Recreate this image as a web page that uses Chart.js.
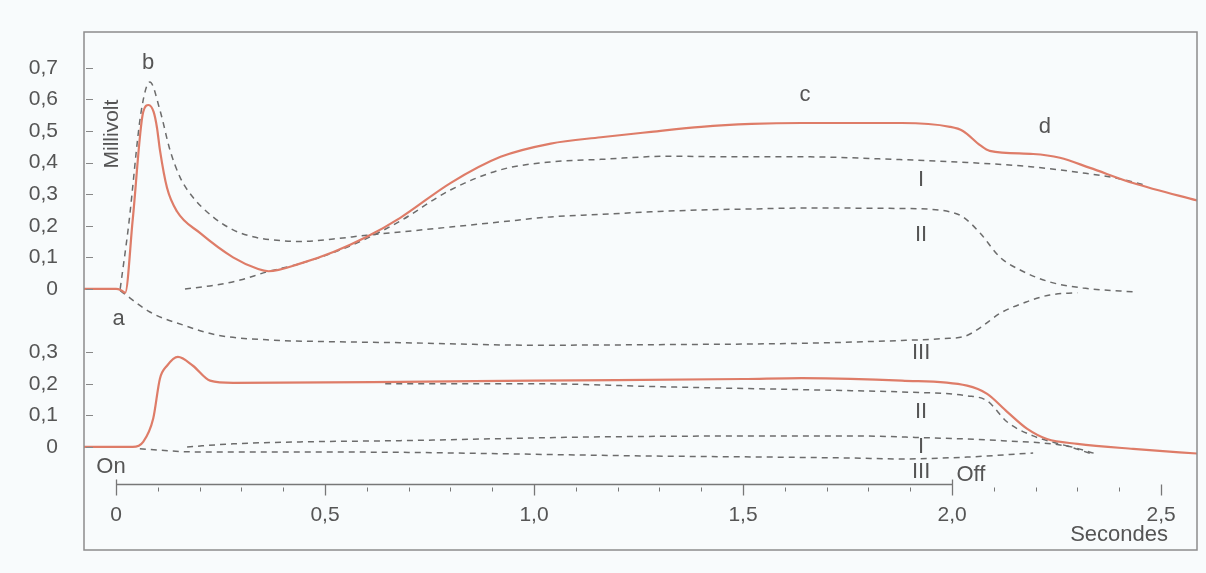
<!DOCTYPE html>
<html>
<head>
<meta charset="utf-8">
<script src="https://cdn.jsdelivr.net/npm/chart.js@4.4.1/dist/chart.umd.min.js"></script>
<style>
  html, body { margin: 0; padding: 0; background: #f8fbfc; }
  #erg { display: block; }
</style>
</head>
<body>
<canvas id="erg" width="1206" height="573"></canvas>
<script>
// ERG and its components (Granit): time in seconds, potential in millivolt
const upperErgTime = [-0.08, 0.0, 0.012, 0.022, 0.04, 0.065, 0.078, 0.09, 0.098, 0.105, 0.122, 0.146, 0.2, 0.28, 0.34, 0.365, 0.44, 0.52, 0.6, 0.68, 0.8, 0.92, 1.04, 1.16, 1.28, 1.4, 1.52, 1.64, 1.88, 1.995, 2.026, 2.067, 2.09, 2.194, 2.258, 2.33, 2.433, 2.6]
const upperErg = [0, 0, -0.004, -0.012, 0.22, 0.56, 0.582, 0.56, 0.51, 0.44, 0.32, 0.245, 0.178, 0.1, 0.063, 0.056, 0.08, 0.117, 0.165, 0.225, 0.335, 0.418, 0.46, 0.48, 0.497, 0.513, 0.522, 0.525, 0.525, 0.513, 0.5, 0.455, 0.437, 0.427, 0.415, 0.383, 0.335, 0.275]

const upperPITime = [0.165, 0.242, 0.297, 0.361, 0.44, 0.52, 0.6, 0.68, 0.8, 0.92, 1.04, 1.16, 1.32, 1.48, 1.64, 1.86, 2.036, 2.194, 2.313, 2.395, 2.457]
const upperPI = [0, 0.013, 0.028, 0.054, 0.08, 0.115, 0.16, 0.215, 0.313, 0.377, 0.402, 0.41, 0.42, 0.418, 0.418, 0.41, 0.4, 0.386, 0.367, 0.35, 0.33]

const upperPIITime = [0.01, 0.03, 0.06, 0.081, 0.105, 0.129, 0.153, 0.184, 0.232, 0.28, 0.328, 0.376, 0.44, 0.52, 0.6, 0.68, 0.8, 0.92, 1.04, 1.16, 1.28, 1.4, 1.52, 1.64, 1.85, 1.95, 1.995, 2.026, 2.067, 2.115, 2.163, 2.234, 2.313, 2.443]
const upperPII = [0, 0.2, 0.56, 0.655, 0.566, 0.44, 0.354, 0.29, 0.228, 0.187, 0.165, 0.155, 0.15, 0.158, 0.17, 0.18, 0.196, 0.212, 0.228, 0.236, 0.244, 0.25, 0.253, 0.256, 0.255, 0.252, 0.244, 0.228, 0.177, 0.1, 0.06, 0.022, 0.003, -0.01]

const upperPIIITime = [0.01, 0.081, 0.16, 0.242, 0.361, 0.52, 0.68, 1.0, 1.32, 1.64, 1.88, 1.98, 2.03, 2.067, 2.115, 2.18, 2.234, 2.3]
const upperPIII = [-0.005, -0.073, -0.114, -0.146, -0.161, -0.167, -0.17, -0.178, -0.176, -0.172, -0.163, -0.157, -0.15, -0.123, -0.077, -0.04, -0.019, -0.012]

const lowerErgTime = [-0.08, 0.0, 0.04, 0.065, 0.089, 0.105, 0.122, 0.148, 0.184, 0.225, 0.28, 0.68, 1.0, 1.5, 1.64, 1.88, 2.036, 2.084, 2.132, 2.18, 2.227, 2.3, 2.433, 2.6]
const lowerErg = [0, 0, 0, 0.016, 0.09, 0.216, 0.257, 0.285, 0.257, 0.21, 0.203, 0.206, 0.21, 0.215, 0.218, 0.21, 0.194, 0.168, 0.111, 0.057, 0.025, 0.01, -0.006, -0.022]

const lowerPIITime = [0.644, 1.0, 1.32, 1.76, 1.88, 2.036, 2.084, 2.132, 2.194, 2.275, 2.33]
const lowerPII = [0.2, 0.2, 0.19, 0.178, 0.174, 0.162, 0.146, 0.079, 0.035, 0.003, -0.02]

const lowerPITime = [0.17, 0.28, 0.44, 0.68, 1.16, 1.76, 1.92, 2.12, 2.275, 2.34]
const lowerPI = [0, 0.01, 0.016, 0.02, 0.032, 0.035, 0.03, 0.02, 0.003, -0.02]

const lowerPIIITime = [0.057, 0.2, 0.44, 0.68, 1.24, 1.76, 1.876, 2.036, 2.194]
const lowerPIII = [-0.006, -0.016, -0.016, -0.017, -0.028, -0.035, -0.038, -0.032, -0.019]

// tick labels
const upperTickValues = [0, 0.1, 0.2, 0.3, 0.4, 0.5, 0.6, 0.7]
const lowerTickValues = [0, 0.1, 0.2, 0.3]
const yTickLabels = ['0', '0,1', '0,2', '0,3', '0,4', '0,5', '0,6', '0,7']
const timeTickValues = [0, 0.5, 1.0, 1.5, 2.0, 2.5]
const timeTickLabels = ['0', '0,5', '1,0', '1,5', '2,0', '2,5']

// the lower trace shares the y scale, shifted down by half a millivolt
const LOWER_SHIFT = -0.5
const TIME_AXIS_AT = -0.617

const FONT = "'Liberation Sans', Arial, sans-serif"
const INK = '#555'
const RED = '#de7c68'
const DASH = '#6c6c6c'

function points(times, values, shift = 0) {
    return times.map((t, i) => ({x: t, y: values[i] + shift}))
}

function trace(data, solid) {
    return {
        data: data,
        borderColor: solid ? RED : DASH,
        borderWidth: solid ? 2.2 : 1.5,
        borderDash: solid ? [] : [6, 5],
        pointRadius: 0,
        cubicInterpolationMode: 'monotone',
        order: solid ? 0 : 1
    }
}

const notes = [
    {text: 'b', t: 0.077, v: 0.715},
    {text: 'c', t: 1.648, v: 0.614},
    {text: 'd', t: 2.222, v: 0.513},
    {text: 'a', t: 0.006, v: -0.095},
    {text: 'I', t: 1.926, v: 0.345},
    {text: 'II', t: 1.926, v: 0.171},
    {text: 'III', t: 1.926, v: -0.203},
    {text: 'II', t: 1.926, v: -0.389},
    {text: 'I', t: 1.926, v: -0.5},
    {text: 'III', t: 1.926, v: -0.579},
    {text: 'On', t: -0.012, v: -0.563},
    {text: 'Off', t: 2.045, v: -0.589}
]

const decorations = {
    id: 'decorations',
    afterDraw(chart) {
        const {ctx, chartArea: area, scales: {x, y}} = chart
        ctx.save()

        // frame
        ctx.strokeStyle = '#8c8c8c'
        ctx.lineWidth = 1.5
        ctx.strokeRect(area.left, area.top, area.right - area.left, area.bottom - area.top)

        // y tick marks inside the frame
        ctx.strokeStyle = '#888'
        ctx.lineWidth = 1
        const yTicks = upperTickValues.concat(lowerTickValues.map(v => v + LOWER_SHIFT))
        yTicks.forEach(v => {
            const py = Math.round(y.getPixelForValue(v)) + 0.5
            ctx.beginPath()
            ctx.moveTo(area.left + 2, py)
            ctx.lineTo(area.left + 9, py)
            ctx.stroke()
        })

        // time axis: line from On to Off, ticks every 0.1 s
        const ay = Math.round(y.getPixelForValue(TIME_AXIS_AT)) + 0.5
        ctx.strokeStyle = '#777'
        ctx.lineWidth = 1.3
        ctx.beginPath()
        ctx.moveTo(x.getPixelForValue(0), ay)
        ctx.lineTo(x.getPixelForValue(2.0), ay)
        ctx.stroke()
        for (let i = 0; i <= 25; i++) {
            const px = Math.round(x.getPixelForValue(i / 10)) + 0.5
            let top = ay + 3, bottom = ay + 7
            if (i % 5 === 0) {
                top = (i === 0 || i === 20) ? ay - 5 : ay
                bottom = ay + 11
            }
            ctx.lineWidth = i % 5 === 0 ? 1.3 : 1
            ctx.beginPath()
            ctx.moveTo(px, top)
            ctx.lineTo(px, bottom)
            ctx.stroke()
        }

        // labels in the plot
        ctx.fillStyle = INK
        ctx.textAlign = 'center'
        ctx.textBaseline = 'middle'
        ctx.font = '22px ' + FONT
        notes.forEach(n => {
            ctx.fillText(n.text, x.getPixelForValue(n.t), y.getPixelForValue(n.v))
        })

        ctx.textAlign = 'right'
        ctx.fillText('Secondes', area.right - 29, area.bottom - 15)

        ctx.translate(area.left + 28, y.getPixelForValue(0.49))
        ctx.rotate(-Math.PI / 2)
        ctx.textAlign = 'center'
        ctx.font = '21px ' + FONT
        ctx.fillText('Millivolt', 0, 0)

        ctx.restore()
    }
}

new Chart(document.getElementById('erg'), {
    type: 'line',
    data: {
        datasets: [
            trace(points(upperErgTime, upperErg), true),
            trace(points(lowerErgTime, lowerErg, LOWER_SHIFT), true),
            trace(points(upperPITime, upperPI), false),
            trace(points(upperPIITime, upperPII), false),
            trace(points(upperPIIITime, upperPIII), false),
            trace(points(lowerPIITime, lowerPII, LOWER_SHIFT), false),
            trace(points(lowerPITime, lowerPI, LOWER_SHIFT), false),
            trace(points(lowerPIIITime, lowerPIII, LOWER_SHIFT), false)
        ]
    },
    options: {
        responsive: false,
        devicePixelRatio: 1,
        animation: false,
        layout: {padding: {left: 0, top: 32, right: 9, bottom: 23}},
        plugins: {legend: {display: false}, tooltip: {enabled: false}},
        scales: {
            x: {
                type: 'linear',
                min: -0.0766,
                max: 2.586,
                position: {y: TIME_AXIS_AT},
                grid: {display: false},
                border: {display: false},
                afterFit: scale => {
                    scale.paddingLeft = 0
                    scale.paddingRight = 0
                },
                afterBuildTicks: scale => {
                    scale.ticks = timeTickValues.map(v => ({value: v}))
                },
                ticks: {
                    autoSkip: false,
                    maxRotation: 0,
                    padding: 11,
                    color: INK,
                    font: {family: FONT, size: 21},
                    callback: (value, index) => timeTickLabels[index]
                }
            },
            y: {
                type: 'linear',
                min: -0.826,
                max: 0.813,
                grid: {display: false},
                border: {display: false},
                afterFit: scale => {
                    scale.width = 84
                    scale.paddingTop = 0
                    scale.paddingBottom = 0
                },
                afterBuildTicks: scale => {
                    const vals = lowerTickValues.map(v => v + LOWER_SHIFT).concat(upperTickValues)
                    scale.ticks = vals.map(v => ({value: v}))
                },
                ticks: {
                    autoSkip: false,
                    padding: 18,
                    color: INK,
                    font: {family: FONT, size: 21},
                    callback: value => {
                        const v = value < -0.1 ? value - LOWER_SHIFT : value
                        return yTickLabels[Math.round(v * 10)]
                    }
                }
            }
        }
    },
    plugins: [decorations]
})
</script>
</body>
</html>
